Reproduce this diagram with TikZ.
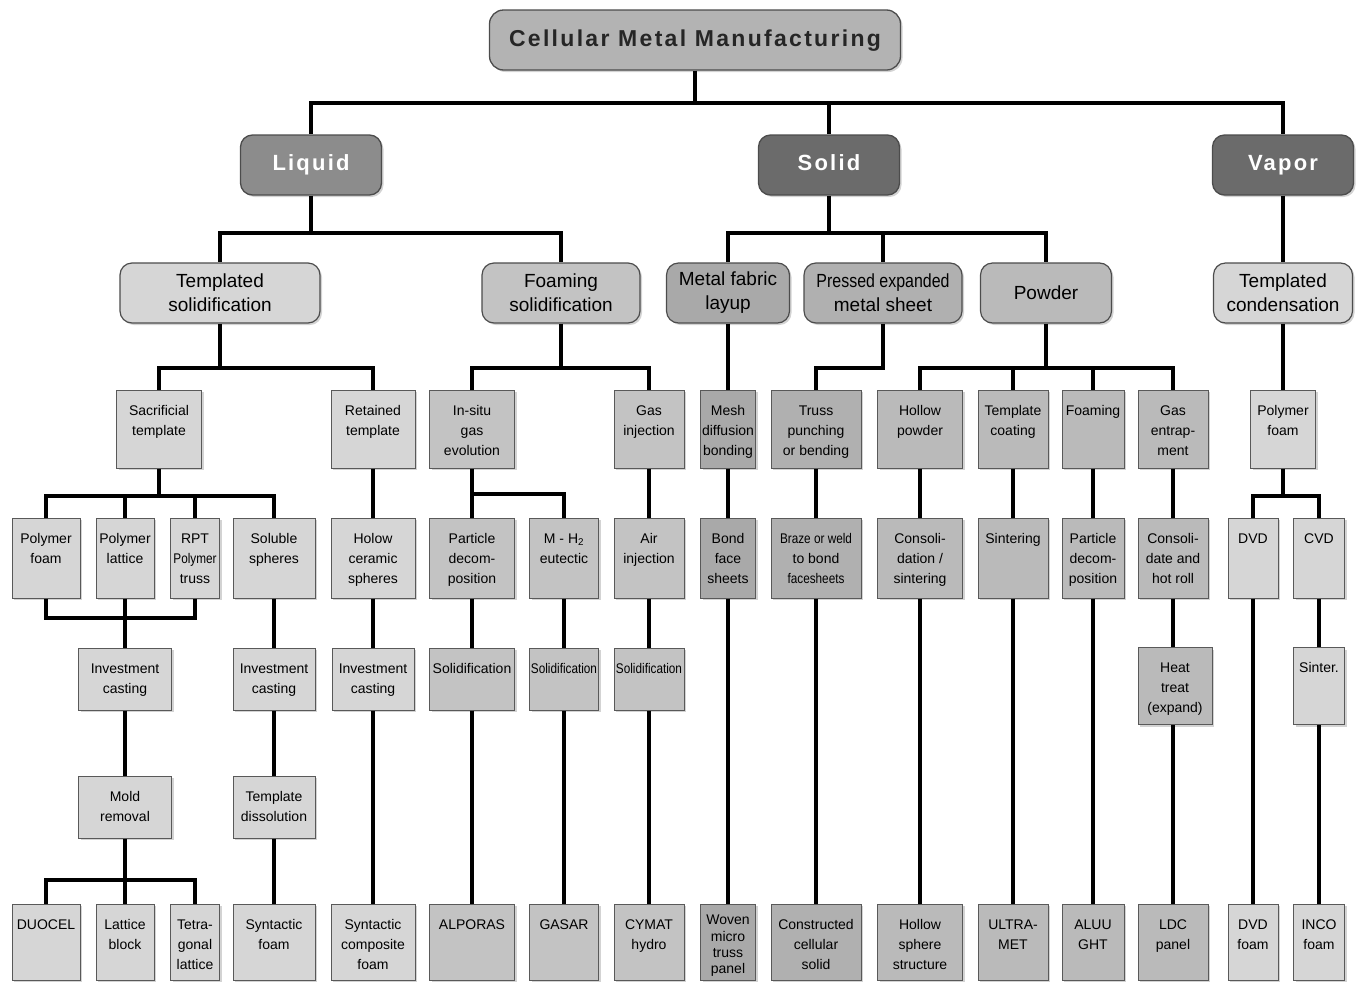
\documentclass[tikz,border=0pt]{standalone}
\usepackage{fontspec}
\usepackage{graphicx}
\setmainfont{Liberation Sans}
\newfontfamily\headfont[LetterSpace=10]{Liberation Sans}
\usetikzlibrary{shadows}

\definecolor{tgray}{HTML}{B3B3B3}
\definecolor{liqgray}{HTML}{8C8C8C}
\definecolor{darkgray}{HTML}{6B6B6B}
\definecolor{lgray}{HTML}{D6D6D6}
\definecolor{mgray}{HTML}{C3C3C3}
\definecolor{fabgray}{HTML}{A9A9A9}
\definecolor{pressgray}{HTML}{B0B0B0}
\definecolor{powgray}{HTML}{BABABA}

% top aligned text in a fixed box: [pad]{width}{height}{text}
\newcommand{\tb}[4][11]{\parbox[c][#3pt][t]{#2pt}{\centering\vspace*{#1pt}\strut#4}}
\newcommand{\cond}[1]{\scalebox{0.84}[1]{#1}}

\begin{document}
\begin{tikzpicture}
[x=1pt, y=-1pt,
 link/.style={line width=3.5pt, black},
 boxshadow/.style={drop shadow={shadow xshift=2pt, shadow yshift=-2pt, opacity=.35}},
 top node/.style={draw=black!70, line width=1.3pt, fill=tgray, rounded corners=14pt, boxshadow,
   minimum width=411pt, minimum height=60pt, text=black!85, text height=17pt, text depth=5pt,
   font=\headfont\bfseries\fontsize{23}{26}\selectfont},
 phase node/.style={draw=black!70, line width=1.3pt, rounded corners=12pt, boxshadow,
   minimum width=141pt, minimum height=60pt, text=white, text height=17pt, text depth=7pt,
   font=\headfont\bfseries\fontsize{22}{26}\selectfont},
 route node/.style={draw=black!70, line width=1.2pt, rounded corners=12pt, boxshadow,
   minimum height=60pt, align=center, inner sep=2pt, font=\fontsize{19}{24}\selectfont},
 cell node/.style={draw=black!65, line width=1pt, inner sep=0pt, boxshadow,
   font=\fontsize{14}{20}\selectfont}]
\useasboundingbox (0,0) rectangle (1356,983);

% title and phases
\node[top node] (title) at (695,40) {Cellular Metal Manufacturing};
\node[phase node, fill=liqgray] (liquid) at (311,165) {Liquid};
\node[phase node, fill=darkgray] (solid) at (829,165) {Solid};
\node[phase node, fill=darkgray] (vapor) at (1283,165) {Vapor};

% routes
\node[route node, fill=lgray, minimum width=200pt] (tsol) at (220,293) {Templated\\solidification};
\node[route node, fill=mgray, minimum width=158pt] (fsol) at (561,293) {Foaming\\solidification};
\node[route node, fill=fabgray, minimum width=123pt] (mfab) at (728,293) {Metal fabric\\layup};
\node[route node, fill=pressgray, minimum width=158pt] (pexp) at (883,293) {\cond{Pressed expanded}\\metal sheet};
\node[route node, fill=powgray, minimum width=131pt] (powder) at (1046,293) {Powder};
\node[route node, fill=lgray, minimum width=139pt] (tcond) at (1283,293) {Templated\\condensation};

% third row
\node[cell node, fill=lgray] (sacr) at (159,429) {\tb{85}{78}{Sacrificial\\template}};
\node[cell node, fill=lgray] (ret) at (373,429) {\tb{84}{78}{Retained\\template}};
\node[cell node, fill=mgray] (insitu) at (472,429) {\tb{85}{78}{In-situ\\gas\\evolution}};
\node[cell node, fill=mgray] (gasinj) at (649,429) {\tb{70}{78}{Gas\\injection}};
\node[cell node, fill=fabgray] (mesh) at (728,429) {\tb{55}{78}{Mesh\\diffusion\\bonding}};
\node[cell node, fill=pressgray] (truss) at (816,429) {\tb{90}{78}{Truss\\punching\\or bending}};
\node[cell node, fill=powgray] (hpow) at (920,429) {\tb{85}{78}{Hollow\\powder}};
\node[cell node, fill=powgray] (tcoat) at (1013,429) {\tb{70}{78}{Template\\coating}};
\node[cell node, fill=powgray] (foaming) at (1093,429) {\tb{62}{78}{Foaming}};
\node[cell node, fill=powgray] (gasent) at (1173,429) {\tb{70}{78}{Gas\\entrap-\\ment}};
\node[cell node, fill=lgray] (pfoamv) at (1283,429) {\tb{65}{78}{Polymer\\foam}};

% fourth row
\node[cell node, fill=lgray] (pfoam) at (46,558) {\tb{68}{80}{Polymer\\foam}};
\node[cell node, fill=lgray] (plat) at (125,558) {\tb{58}{80}{Polymer\\lattice}};
\node[cell node, fill=lgray] (rpt) at (195,558) {\tb{49}{80}{RPT\\\cond{Polymer}\\truss}};
\node[cell node, fill=lgray] (solsph) at (274,558) {\tb{82}{80}{Soluble\\spheres}};
\node[cell node, fill=lgray] (hcer) at (373,558) {\tb{84}{80}{Holow\\ceramic\\spheres}};
\node[cell node, fill=mgray] (pdec) at (472,558) {\tb{85}{80}{Particle\\decom-\\position}};
\node[cell node, fill=mgray] (mh) at (564,558) {\tb{69}{80}{M - H\textsubscript{2}\\eutectic}};
\node[cell node, fill=mgray] (airinj) at (649,558) {\tb{70}{80}{Air\\injection}};
\node[cell node, fill=fabgray] (bond) at (728,558) {\tb{55}{80}{Bond\\face\\sheets}};
\node[cell node, fill=pressgray] (braze) at (816,558) {\tb{90}{80}{\cond{Braze or weld}\\to bond\\\cond{facesheets}}};
\node[cell node, fill=powgray] (consol) at (920,558) {\tb{85}{80}{Consoli-\\dation /\\sintering}};
\node[cell node, fill=powgray] (sinter) at (1013,558) {\tb{70}{80}{Sintering}};
\node[cell node, fill=powgray] (pdec2) at (1093,558) {\tb{62}{80}{Particle\\decom-\\position}};
\node[cell node, fill=powgray] (conroll) at (1173,558) {\tb{70}{80}{Consoli-\\date and\\hot roll}};
\node[cell node, fill=lgray] (dvd) at (1253,558) {\tb{50}{80}{DVD}};
\node[cell node, fill=lgray] (cvd) at (1319,558) {\tb{51}{80}{CVD}};

% fifth and sixth rows
\node[cell node, fill=lgray] (inv1) at (125,679) {\tb{93}{62}{Investment\\casting}};
\node[cell node, fill=lgray] (inv2) at (274,679) {\tb{82}{62}{Investment\\casting}};
\node[cell node, fill=lgray] (inv3) at (373,679) {\tb{82}{62}{Investment\\casting}};
\node[cell node, fill=mgray] (solid1) at (472,679) {\tb{85}{62}{Solidification}};
\node[cell node, fill=mgray] (solid2) at (564,679) {\tb{69}{62}{\cond{Solidification}}};
\node[cell node, fill=mgray] (solid3) at (649,679) {\tb{70}{62}{\cond{Solidification}}};
\node[cell node, fill=powgray] (heat) at (1175,686) {\tb{74}{77}{Heat\\treat\\(expand)}};
\node[cell node, fill=lgray] (sintv) at (1319,686) {\tb{51}{77}{Sinter.}};
\node[cell node, fill=lgray] (mold) at (125,807) {\tb{93}{62}{Mold\\removal}};
\node[cell node, fill=lgray] (tdis) at (274,807) {\tb{82}{62}{Template\\dissolution}};

% products
\node[cell node, fill=lgray] (duocel) at (46,942) {\tb{68}{76}{DUOCEL}};
\node[cell node, fill=lgray] (lblock) at (125,942) {\tb{58}{76}{Lattice\\block}};
\node[cell node, fill=lgray] (tetra) at (195,942) {\tb{49}{76}{Tetra-\\gonal\\lattice}};
\node[cell node, fill=lgray] (synf) at (274,942) {\tb{82}{76}{Syntactic\\foam}};
\node[cell node, fill=lgray] (syncomp) at (373,942) {\tb{84}{76}{Syntactic\\composite\\foam}};
\node[cell node, fill=mgray] (alporas) at (472,942) {\tb{85}{76}{ALPORAS}};
\node[cell node, fill=mgray] (gasar) at (564,942) {\tb{69}{76}{GASAR}};
\node[cell node, fill=mgray] (cymat) at (649,942) {\tb{70}{76}{CYMAT\\hydro}};
\node[cell node, fill=fabgray] (woven) at (728,942) {\tb[6]{55}{76}{\fontsize{14}{16}\selectfont Woven\\micro\\truss\\panel}};
\node[cell node, fill=pressgray] (ccs) at (816,942) {\tb{90}{76}{Constructed\\cellular\\solid}};
\node[cell node, fill=powgray] (hss) at (920,942) {\tb{85}{76}{Hollow\\sphere\\structure}};
\node[cell node, fill=powgray] (ultra) at (1013,942) {\tb{70}{76}{ULTRA-\\MET}};
\node[cell node, fill=powgray] (aluu) at (1093,942) {\tb{62}{76}{ALUU\\GHT}};
\node[cell node, fill=powgray] (ldc) at (1173,942) {\tb{70}{76}{LDC\\panel}};
\node[cell node, fill=lgray] (dvdf) at (1253,942) {\tb{50}{76}{DVD\\foam}};
\node[cell node, fill=lgray] (inco) at (1319,942) {\tb{51}{76}{INCO\\foam}};

% bus points
\coordinate (b0) at (695,103);
\coordinate (bliq) at (311,233);
\coordinate (bsol) at (829,233);
\coordinate (btsol) at (220,368);
\coordinate (bfsol) at (561,368);
\coordinate (bpexp) at (883,368);
\coordinate (bpow) at (1046,368);
\coordinate (bsacr) at (159,496);
\coordinate (binsitu) at (472,494);
\coordinate (bvap) at (1283,496);
\coordinate (bjoin) at (125,618);
\coordinate (bmold) at (125,880);

% connectors
\draw[link] (title) -- (b0);
\foreach \n in {liquid,solid,vapor} \draw[link] (b0) -| (\n);
\draw[link] (liquid) -- (bliq);
\foreach \n in {tsol,fsol} \draw[link] (bliq) -| (\n);
\draw[link] (solid) -- (bsol);
\foreach \n in {mfab,pexp,powder} \draw[link] (bsol) -| (\n);
\draw[link] (vapor) -- (tcond) -- (pfoamv);
\draw[link] (tsol) -- (btsol);
\foreach \n in {sacr,ret} \draw[link] (btsol) -| (\n);
\draw[link] (fsol) -- (bfsol);
\foreach \n in {insitu,gasinj} \draw[link] (bfsol) -| (\n);
\draw[link] (pexp) -- (bpexp) -| (truss);
\draw[link] (powder) -- (bpow);
\foreach \n in {hpow,tcoat,foaming,gasent} \draw[link] (bpow) -| (\n);
\draw[link] (sacr) -- (bsacr);
\foreach \n in {pfoam,plat,rpt,solsph} \draw[link] (bsacr) -| (\n);
\draw[link] (insitu) -- (binsitu);
\foreach \n in {pdec,mh} \draw[link] (binsitu) -| (\n);
\draw[link] (pfoamv) -- (bvap);
\foreach \n in {dvd,cvd} \draw[link] (bvap) -| (\n);
\draw[link] (pfoam) |- (bjoin);
\draw[link] (rpt) |- (bjoin);
\draw[link] (plat) -- (inv1) -- (mold) -- (bmold);
\foreach \n in {duocel,lblock,tetra} \draw[link] (bmold) -| (\n);
\draw[link] (solsph) -- (inv2) -- (tdis) -- (synf);
\draw[link] (ret) -- (hcer) -- (inv3) -- (syncomp);
\draw[link] (pdec) -- (solid1) -- (alporas);
\draw[link] (mh) -- (solid2) -- (gasar);
\draw[link] (gasinj) -- (airinj) -- (solid3) -- (cymat);
\draw[link] (mfab) -- (mesh) -- (bond) -- (woven);
\draw[link] (truss) -- (braze) -- (ccs);
\draw[link] (hpow) -- (consol) -- (hss);
\draw[link] (tcoat) -- (sinter) -- (ultra);
\draw[link] (foaming) -- (pdec2) -- (aluu);
\draw[link] (gasent) -- (conroll);
\draw[link] (conroll.south) -- (heat.north -| conroll.south);
\draw[link] (heat.south -| ldc.north) -- (ldc);
\draw[link] (dvd) -- (dvdf);
\draw[link] (cvd) -- (sintv) -- (inco);
\end{tikzpicture}
\end{document}
